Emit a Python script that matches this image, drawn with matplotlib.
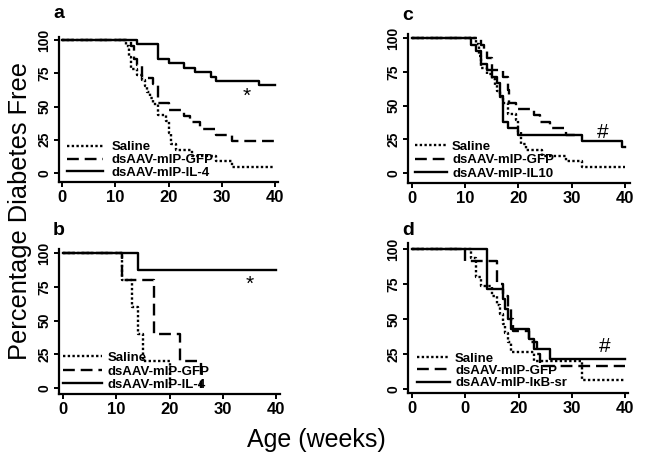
import matplotlib
matplotlib.use("Agg")
import matplotlib.pyplot as plt

plt.rcParams['font.family'] = ['Liberation Sans', 'DejaVu Sans']

# ---- data (weeks, % diabetes free) ----
saline_ac_t = [0, 12, 12.5, 13, 14, 15, 15.5, 16, 16.5, 17, 18, 19.5, 20, 20.5, 21.5, 24.5, 29, 32, 40]
saline_ac_s = [100, 95.7, 87, 78.3, 73.9, 69.6, 65.2, 60.9, 56.5, 52.2, 43.5, 39.1, 30.4, 21.7, 17.4, 13, 8.7, 4.3, 4.3]

gfp_a_t = [0, 13, 13.5, 14, 15, 17, 18, 20, 23, 24, 26, 29, 32, 40]
gfp_a_s = [100, 95.2, 85.7, 81, 71.4, 66.7, 52.4, 47.6, 42.9, 38.1, 33.3, 28.6, 23.8, 23.8]
il4_a_t = [0, 14, 18, 20, 23, 25, 28, 29, 37, 40]
il4_a_s = [100, 97, 86, 83, 79, 76, 72, 69, 66, 66]

saline_b_t = [0, 11, 13, 14, 15, 20]
saline_b_s = [100, 80, 60, 40, 20, 0]
gfp_b_t = [0, 11, 17, 22, 26]
gfp_b_s = [100, 80, 40, 20, 0]
il4_b_t = [0, 14, 40]
il4_b_s = [100, 87.5, 87.5]

gfp_c_t = [0, 13, 13.5, 14, 15, 17, 18, 18.3, 19.5, 23, 24, 26, 29, 31]
gfp_c_s = [100, 95.2, 90.5, 85.7, 76.2, 71.4, 61.9, 52.4, 47.6, 42.9, 38.1, 33.3, 28.6, 28.6]
il10_c_t = [0, 11, 12, 13, 14, 15, 16, 16.5, 17, 18, 20, 32, 39.5, 40]
il10_c_s = [100, 95.2, 90.5, 81, 76.2, 71.4, 66.7, 57.1, 38.1, 33.3, 28.6, 23.8, 19, 19]

saline_d_t = [0, 11, 12, 13, 15, 16, 16.5, 17, 17.5, 18, 18.5, 23, 32, 40]
saline_d_s = [100, 93.3, 80, 73.3, 66.7, 60, 53.3, 46.7, 40, 33.3, 26.7, 20, 6.7, 6.7]
gfp_d_t = [0, 10, 16, 17, 18, 18.5, 19, 22, 23.5, 24, 40]
gfp_d_s = [100, 91.7, 75, 66.7, 58.3, 50, 41.7, 33.3, 25, 16.7, 16.7]
ikb_d_t = [0, 14, 17, 17.5, 18, 18.5, 22, 23, 26, 40]
ikb_d_s = [100, 71.4, 64.3, 57.1, 50, 42.9, 35.7, 28.6, 21.4, 21.4]

xticks = [0, 10, 20, 30, 40]
yticks = [0, 25, 50, 75, 100]

DOT = (0, (1, 1))
DASH = (0, (5, 2.5))

fig = plt.figure(figsize=(6.45, 4.58), dpi=100)


def panel(rect, xlim, ylim, curves, labels, leg_anchor, handlelen, tpad, lspace,
          mark, mark_xy, letter, letter_xy, xlabels=None):
    ax = fig.add_axes(rect)
    styles = [DOT, DASH, '-']
    for (t, s), ls, lab in zip(curves, styles, labels):
        ax.plot(t, s, drawstyle='steps-post', color='black', lw=1.7, linestyle=ls, label=lab)
    ax.set_xlim(*xlim)
    ax.set_ylim(*ylim)
    for side in ['top', 'right']:
        ax.spines[side].set_visible(False)
    for side in ['left', 'bottom']:
        ax.spines[side].set_linewidth(1.6)
    ax.set_xticks(xticks)
    ax.set_xticklabels(xlabels if xlabels else [str(v) for v in xticks],
                       fontsize=12, fontweight='bold')
    ax.set_yticks(yticks)
    ax.set_yticklabels([str(v) for v in yticks], fontsize=10, fontweight='bold',
                       rotation=90, va='center')
    ax.tick_params(direction='out', length=3.5, width=1.4, pad=2)
    ax.legend(loc='lower left', bbox_to_anchor=leg_anchor, frameon=False,
              borderpad=0, borderaxespad=0, handlelength=handlelen,
              handletextpad=tpad, labelspacing=lspace,
              prop={'size': 9.5, 'weight': 'bold'})
    ax.text(mark_xy[0], mark_xy[1], mark, fontsize=15, ha='center', va='center')
    fig.text(letter_xy[0] / 645, 1 - letter_xy[1] / 458, letter, fontsize=14,
             fontweight='bold', ha='left', va='baseline')
    return ax


panel([59 / 645, 1 - 182 / 458, 219 / 645, 145 / 458], (-0.56, 40.56), (-6.8, 102.3),
      [(saline_ac_t, saline_ac_s), (gfp_a_t, gfp_a_s), (il4_a_t, il4_a_s)],
      ['Saline', 'dsAAV-mIP-GFP', 'dsAAV-mIP-IL-4'],
      (0.035, 0.02), 2.75, 0.65, 0.05, '*', (34.7, 58), 'a', (53, 18))

panel([59 / 645, 1 - 394 / 458, 221 / 645, 145 / 458], (-0.75, 40.75), (-4.4, 103),
      [(saline_b_t, saline_b_s), (gfp_b_t, gfp_b_s), (il4_b_t, il4_b_s)],
      ['Saline', 'dsAAV-mIP-GFP', 'dsAAV-mIP-IL-4'],
      (0.02, 0.02), 2.9, 0.47, 0.1, '*', (35, 77), 'b', (53, 235))

panel([408 / 645, 1 - 183 / 458, 222 / 645, 149 / 458], (-0.75, 40.94), (-7.4, 103.3),
      [(saline_ac_t, saline_ac_s), (gfp_c_t, gfp_c_s), (il10_c_t, il10_c_s)],
      ['Saline', 'dsAAV-mIP-GFP', 'dsAAV-mIP-IL10'],
      (0.032, 0.02), 2.4, 0.4, 0.1, '#', (35.9, 30), 'c', (402, 20))

panel([408 / 645, 1 - 393 / 458, 220 / 645, 150 / 458], (-0.75, 40.56), (-2.9, 104.3),
      [(saline_d_t, saline_d_s), (gfp_d_t, gfp_d_s), (ikb_d_t, ikb_d_s)],
      ['Saline', 'dsAAV-mIP-GFP', 'dsAAV-mIP-I\u03baB-sr'],
      (0.04, 0.025), 2.5, 0.4, 0.0, '#', (36.2, 30), 'd', (402, 235),
      xlabels=['0', '0', '20', '30', '40'])

fig.text(20 / 645, 1 - 211 / 458, 'Percentage Diabetes Free', rotation=90,
         fontsize=18.3, ha='center', va='center')
fig.text(316 / 645, 1 - 440 / 458, 'Age (weeks)', fontsize=18, ha='center', va='center')

fig.savefig('out.png', dpi=100)
